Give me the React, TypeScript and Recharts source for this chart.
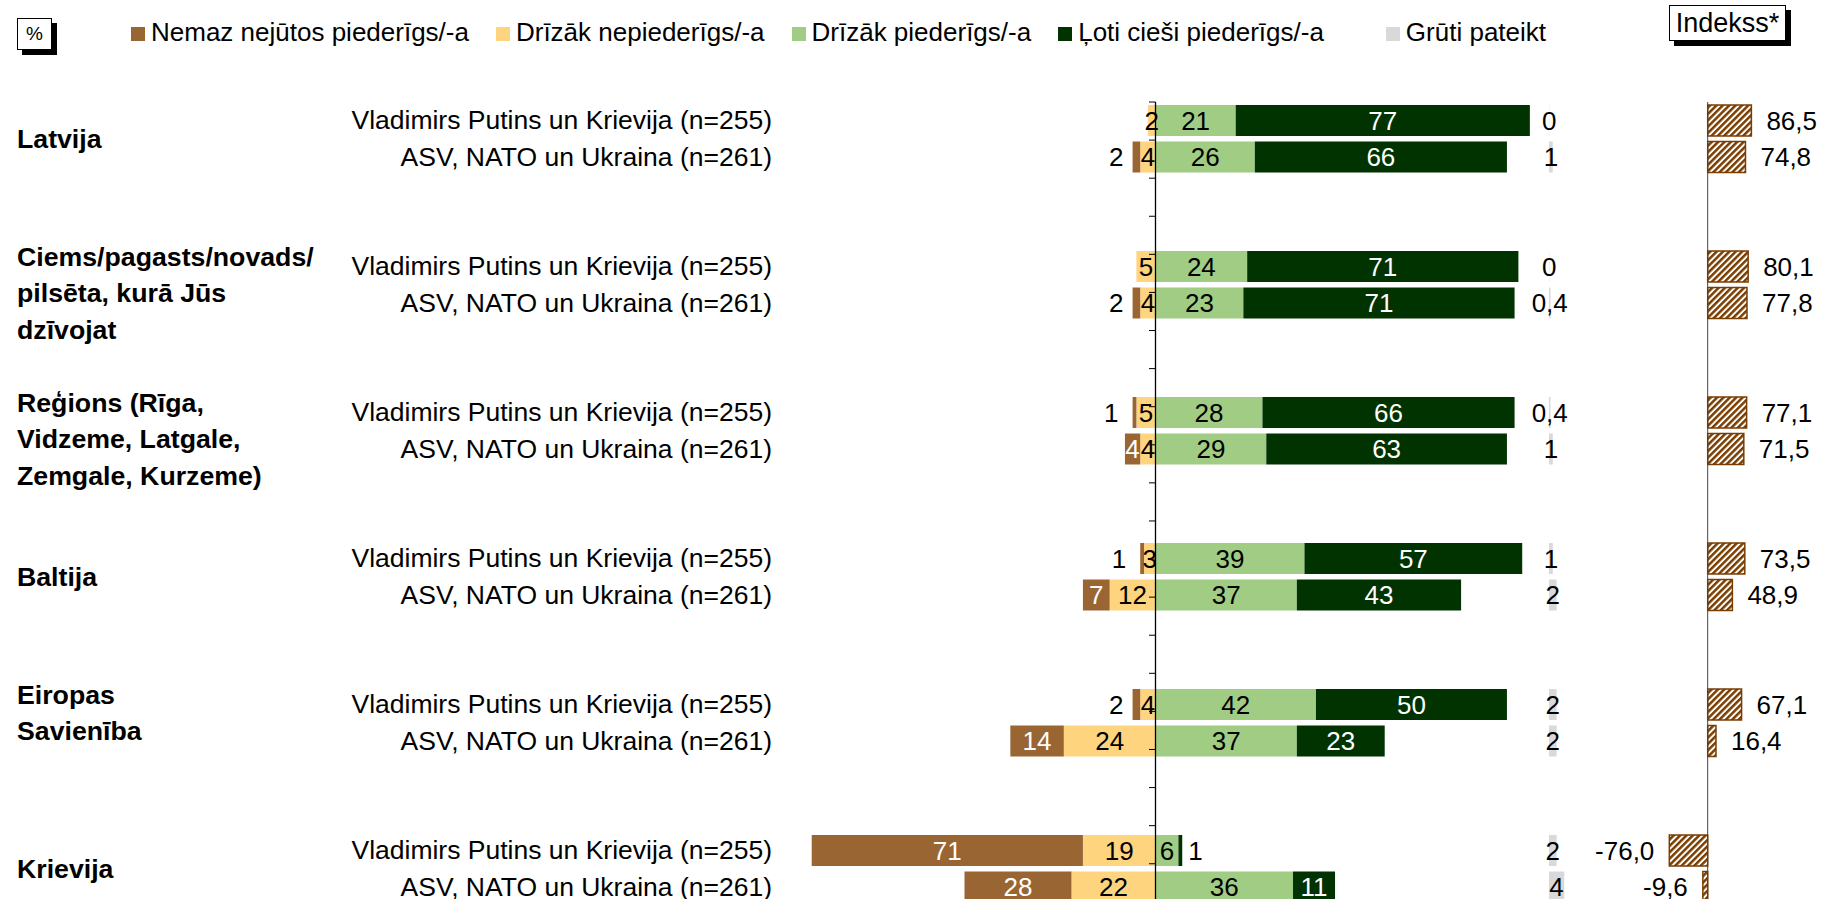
import React from "react";
import { BarChart, Bar, XAxis, YAxis, ReferenceLine, LabelList } from "recharts";

const groupLabels = [
  ["Latvija"],
  ["Ciems/pagasts/novads/", "pilsēta, kurā Jūs", "dzīvojat"],
  ["Reģions (Rīga,", "Vidzeme, Latgale,", "Zemgale, Kurzeme)"],
  ["Baltija"],
  ["Eiropas", "Savienība"],
  ["Krievija"],
];
const respondentLabels = ["Vladimirs Putins un Krievija (n=255)", "ASV, NATO un Ukraina (n=261)"];

// one value per bar row, two rows per group (Putins, ASV)
const nemaz = [0, 2, 0, 2, 1, 4, 1, 7, 2, 14, 71, 28];
const drizakNe = [2, 4, 5, 4, 5, 4, 3, 12, 4, 24, 19, 22];
const drizakPied = [21, 26, 24, 23, 28, 29, 39, 37, 42, 37, 6, 36];
const lotiCiesi = [77, 66, 71, 71, 66, 63, 57, 43, 50, 23, 1, 11];
const grutiPateikt = [0, 1, 0, 0.4, 0.4, 1, 1, 2, 2, 2, 2, 4];
const indekss = [86.5, 74.8, 80.1, 77.8, 77.1, 71.5, 73.5, 48.9, 67.1, 16.4, -76.0, -9.6];

const legendItems = [
  { name: "Nemaz nejūtos piederīgs/-a", color: "#996633" },
  { name: "Drīzāk nepiederīgs/-a", color: "#FFD47F" },
  { name: "Drīzāk piederīgs/-a", color: "#A0CC84" },
  { name: "Ļoti cieši piederīgs/-a", color: "#003300" },
  { name: "Grūti pateikt", color: "#D9D9D9" },
];

const FONT = "'Liberation Sans', Arial, Helvetica, sans-serif";
const SLOTS_PER_GROUP = 4;
const CHART_W = 1821;
const PLOT_TOP = 102;
const SLOT_H = 36.5;
const PLOT_L = 780;
const PLOT_R = 1821;
const ZERO_X = 1155.5;
const PX_PER_PCT = 3.82;
const GREY_START = 103; // where the "Grūti pateikt" column begins, in % of the main scale
const IDX_ZERO_X = 1707.7;
const PX_PER_IDX = 0.505;
const TICK_PX = 6.5;
const GROUP_LINE_H = 36.7;

const domainAt = (zeroX: number, pxPerUnit: number): [number, number] => [
  (PLOT_L - zeroX) / pxPerUnit,
  (PLOT_R - zeroX) / pxPerUnit,
];

const rows = groupLabels.flatMap((_, g) =>
  Array.from({ length: SLOTS_PER_GROUP }, (_, s) => {
    const key = `r${g}-${s}`;
    if (s > 1) return { key, group: g, resp: -1 };
    const i = g * 2 + s;
    return {
      key,
      group: g,
      resp: s,
      nemaz: -nemaz[i],
      drizakNe: -drizakNe[i],
      drizakPied: drizakPied[i],
      lotiCiesi: lotiCiesi[i],
      gruti: grutiPateikt[i],
      indekss: indekss[i],
    };
  })
);

const slotTicks = rows.slice(1).map((_, k) => k + 1);
const chartH = PLOT_TOP + rows.length * SLOT_H;

const fmt = (v: number) => String(v).replace(".", ",");
const textStyle = { fontFamily: FONT, fontSize: 26 };

const box = (p: any) => {
  const vb = p.viewBox ?? p;
  const x = Number(vb.x);
  const w = Number(vb.width);
  return {
    left: Math.min(x, x + w),
    right: Math.max(x, x + w),
    cy: Number(vb.y) + Number(vb.height) / 2,
    v: Number(p.value),
  };
};

const Txt = ({ x, y, anchor = "middle", fill = "#000", size = 26, bold = false, children }: any) => (
  <text
    x={x}
    y={y}
    textAnchor={anchor}
    dominantBaseline="central"
    fill={fill}
    style={{ ...textStyle, fontSize: size, fontWeight: bold ? 700 : 400 }}
  >
    {children}
  </text>
);

const brownLabel = (p: any) => {
  const { left, right, cy, v } = box(p);
  const a = Math.abs(v);
  if (!a) return null;
  if (a >= 3) return <Txt x={(left + right) / 2} y={cy} fill="#fff">{a}</Txt>;
  return <Txt x={left - (a < 2 ? 14 : 9)} y={cy} anchor="end">{a}</Txt>;
};

const centerLabel = (fill: string) => (p: any) => {
  const { left, right, cy, v } = box(p);
  if (!v) return null;
  return <Txt x={(left + right) / 2} y={cy} fill={fill}>{fmt(Math.abs(v))}</Txt>;
};

const darkLabel = (p: any) => {
  const { left, right, cy, v } = box(p);
  if (!v) return null;
  if (v >= 3) return <Txt x={(left + right) / 2} y={cy} fill="#fff">{v}</Txt>;
  return <Txt x={right + 6} y={cy} anchor="start">{v}</Txt>;
};

const grutiLabel = (p: any) => {
  const { left, right, cy, v } = box(p);
  if (Number.isNaN(v)) return null;
  return <Txt x={(left + right) / 2} y={cy}>{fmt(v)}</Txt>;
};

const indexLabel = (p: any) => {
  const { left, right, cy, v } = box(p);
  if (Number.isNaN(v)) return null;
  const s = v.toFixed(1).replace(".", ",");
  if (v < 0) return <Txt x={left - 15} y={cy} anchor="end">{s}</Txt>;
  return <Txt x={right + 15} y={cy} anchor="start">{s}</Txt>;
};

const RowTick = (props: any) => {
  const { x, y, index } = props;
  const row = rows[index];
  if (!row || row.resp < 0) return null;
  const lines = groupLabels[row.group];
  // single-line group names sit between the two rows, wrapped ones start just above the first row
  const firstLine = lines.length > 1 ? y - 9.5 : y + SLOT_H / 2;
  return (
    <g>
      <Txt x={x} y={y} anchor="end" size={26.5}>{respondentLabels[row.resp]}</Txt>
      {row.resp === 0 &&
        lines.map((ln, li) => (
          <Txt key={li} x={17} y={firstLine + li * GROUP_LINE_H} anchor="start" size={26.7} bold>
            {ln}
          </Txt>
        ))}
    </g>
  );
};

const shadowBox = {
  position: "absolute" as const,
  background: "#fff",
  border: "1px solid #000",
  boxShadow: "5px 5px 0 #000",
  display: "flex",
  alignItems: "center",
  justifyContent: "center",
  boxSizing: "border-box" as const,
};

export default function App() {
  return (
    <div
      style={{
        position: "absolute",
        left: 0,
        top: 0,
        width: CHART_W,
        height: 899,
        overflow: "hidden",
        background: "#fff",
        fontFamily: FONT,
      }}
    >
      <div style={{ ...shadowBox, left: 17, top: 18, width: 35, height: 32, fontSize: 19 }}>%</div>
      <div style={{ ...shadowBox, left: 1669, top: 5, width: 117, height: 36, fontSize: 27 }}>Indekss*</div>
      <div
        style={{
          position: "absolute",
          left: 131,
          top: 16,
          height: 32,
          display: "flex",
          alignItems: "center",
          fontSize: 26,
          whiteSpace: "nowrap",
        }}
      >
        {legendItems.map((it, i) => (
          <div
            key={it.name}
            style={{ display: "flex", alignItems: "center", marginLeft: i === 0 ? 0 : i === 4 ? 62 : 27 }}
          >
            <span style={{ width: 14, height: 14, background: it.color, marginRight: 6, marginTop: 4 }} />
            {it.name}
          </div>
        ))}
      </div>

      <BarChart
        width={CHART_W}
        height={chartH}
        data={rows}
        layout="vertical"
        stackOffset="sign"
        barSize={31}
        margin={{ top: PLOT_TOP, right: CHART_W - PLOT_R, bottom: 0, left: 0 }}
        style={{ position: "absolute", left: 0, top: 0 }}
      >
        <defs>
          <pattern id="hatch" patternUnits="userSpaceOnUse" width={4.5} height={4.5} patternTransform="rotate(45)">
            <rect width={4.5} height={4.5} fill="#fff" />
            <rect width={2.5} height={4.5} fill="#7a3d00" />
          </pattern>
        </defs>
        <XAxis xAxisId="main" type="number" domain={domainAt(ZERO_X, PX_PER_PCT)} hide />
        <XAxis xAxisId="dk" type="number" domain={domainAt(ZERO_X + GREY_START * PX_PER_PCT, PX_PER_PCT)} hide />
        <XAxis xAxisId="idx" type="number" domain={domainAt(IDX_ZERO_X, PX_PER_IDX)} hide />
        <YAxis
          yAxisId="cat"
          type="category"
          dataKey="key"
          width={PLOT_L}
          axisLine={false}
          tickLine={false}
          tickSize={0}
          tickMargin={8}
          interval={0}
          tick={<RowTick />}
        />
        <YAxis yAxisId="cat2" type="category" dataKey="key" hide />
        <YAxis yAxisId="cat3" type="category" dataKey="key" hide />
        <YAxis yAxisId="slots" type="number" domain={[0, rows.length]} reversed hide />

        <Bar dataKey="drizakNe" stackId="p" xAxisId="main" yAxisId="cat" fill="#FFD47F" isAnimationActive={false}>
          <LabelList dataKey="drizakNe" content={centerLabel("#000")} />
        </Bar>
        <Bar dataKey="nemaz" stackId="p" xAxisId="main" yAxisId="cat" fill="#996633" isAnimationActive={false}>
          <LabelList dataKey="nemaz" content={brownLabel} />
        </Bar>
        <Bar dataKey="drizakPied" stackId="p" xAxisId="main" yAxisId="cat" fill="#A0CC84" isAnimationActive={false}>
          <LabelList dataKey="drizakPied" content={centerLabel("#000")} />
        </Bar>
        <Bar dataKey="lotiCiesi" stackId="p" xAxisId="main" yAxisId="cat" fill="#003300" isAnimationActive={false}>
          <LabelList dataKey="lotiCiesi" content={darkLabel} />
        </Bar>
        <Bar
          dataKey="gruti"
          xAxisId="dk"
          yAxisId="cat2"
          fill="#D9D9D9"
          minPointSize={(v: number) => (v === 0 ? 0.3 : 0)}
          isAnimationActive={false}
        >
          <LabelList dataKey="gruti" content={grutiLabel} />
        </Bar>
        <Bar
          dataKey="indekss"
          xAxisId="idx"
          yAxisId="cat3"
          fill="url(#hatch)"
          stroke="#7a3d00"
          strokeWidth={1.5}
          isAnimationActive={false}
        >
          <LabelList dataKey="indekss" content={indexLabel} />
        </Bar>

        <ReferenceLine xAxisId="main" yAxisId="slots" x={0} stroke="#000" strokeWidth={1.3} />
        {slotTicks.map((k) => (
          <ReferenceLine
            key={k}
            xAxisId="main"
            yAxisId="slots"
            segment={[
              { x: -TICK_PX / PX_PER_PCT, y: k },
              { x: 0, y: k },
            ]}
            stroke="#000"
          />
        ))}
        <ReferenceLine xAxisId="idx" yAxisId="slots" x={0} stroke="#444" strokeWidth={1} />
      </BarChart>
    </div>
  );
}
